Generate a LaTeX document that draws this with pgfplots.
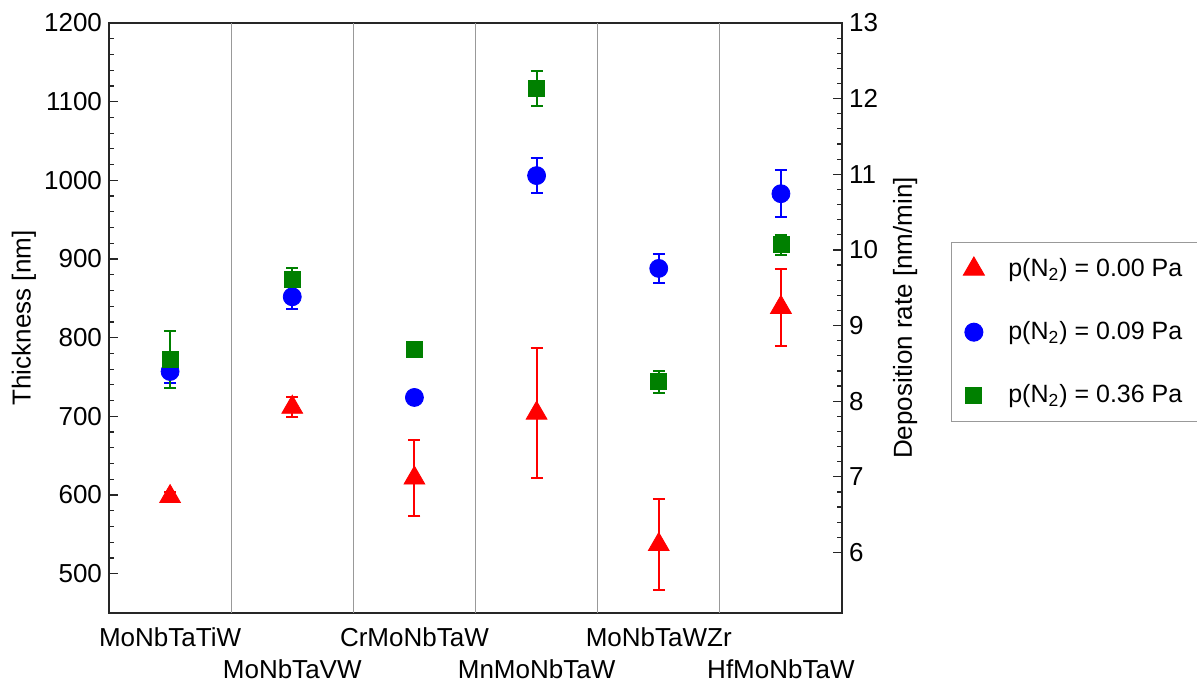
\documentclass[border=0pt]{standalone}
\usepackage{fontspec}
\setmainfont{Liberation Sans}
\usepackage{pgfplots}
\pgfplotsset{compat=1.18}
\definecolor{cred}{RGB}{255,0,0}
\definecolor{cblue}{RGB}{0,0,255}
\definecolor{cgreen}{RGB}{0,128,0}
\newcommand{\fs}{\fontsize{12.5}{15}\selectfont}
\newcommand{\ft}{\fontsize{13}{15.6}\selectfont}
\pgfplotstableread{
x y e
0.5 598 6
1.5 711.5 12.7
2.5 621.5 48.5
3.5 704 83
4.5 537 58
5.5 838.5 48.5
}\redtab
\pgfplotstableread{
x y e
0.5 757 15
1.5 852 15
2.5 724 4
3.5 1006 22.5
4.5 888 18
5.5 983 30
}\bluetab
\pgfplotstableread{
x y e
0.5 772 36
1.5 874 15
2.5 785 10
3.5 1117 22
4.5 744 14
5.5 918 12.5
}\greentab
\begin{document}
\begin{tikzpicture}
\begin{axis}[
  at={(0,0)}, anchor=south west,
  scale only axis, width=366.5pt, height=295pt,
  xmin=0, xmax=6, ymin=450, ymax=1200,
  ytick={500,600,...,1200},
  minor y tick num=4,
  ytick pos=left,
  xtick={0.5,2.5,4.5},
  xticklabels={MoNbTaTiW,CrMoNbTaW,MoNbTaWZr},
  extra x ticks={1.5,3.5,5.5},
  extra x tick labels={MoNbTaVW,MnMoNbTaW,HfMoNbTaW},
  extra x tick style={major tick length=0pt, xticklabel style={yshift=-16pt}},
  xtick style={draw=none},
  tick align=inside,
  major tick length=4.5pt, minor tick length=2.3pt,
  tick style={black!85, line width=0.6pt},
  axis line style={line width=1pt, black!85},
  ylabel={Thickness [nm]},
  ylabel style={at={(axis description cs:-0.116,0.5)}, anchor=center},
  label style={font=\ft},
  tick label style={font=\ft},
  xticklabel style={yshift=-4pt},
  /pgf/number format/assume math mode=true,
  /pgf/number format/1000 sep={},
  legend style={at={(axis description cs:1.1487,0.6288)}, anchor=north west,
    draw=gray!80, line width=0.5pt, font=\fs, row sep=17pt,
    inner xsep=6pt, inner ysep=6pt,
    /tikz/every odd column/.append style={column sep=10pt}},
  legend cell align=left,
  error bars/error bar style={line width=1pt},
  error bars/error mark options={rotate=90, mark size=3pt, line width=1pt},
]
\addplot[gray!80, line width=0.6pt, forget plot] coordinates {(1,450) (1,1200)};
\addplot[gray!80, line width=0.6pt, forget plot] coordinates {(2,450) (2,1200)};
\addplot[gray!80, line width=0.6pt, forget plot] coordinates {(3,450) (3,1200)};
\addplot[gray!80, line width=0.6pt, forget plot] coordinates {(4,450) (4,1200)};
\addplot[gray!80, line width=0.6pt, forget plot] coordinates {(5,450) (5,1200)};
\addplot[only marks, mark=triangle*, mark size=6pt, color=cred,
  error bars/.cd, y dir=both, y explicit]
  table[x=x, y=y, y error=e] {\redtab};
\addlegendentry{p(N\textsubscript{2}) = 0.00 Pa}
\addplot[only marks, mark=*, mark size=4.5pt, color=cblue,
  error bars/.cd, y dir=both, y explicit]
  table[x=x, y=y, y error=e] {\bluetab};
\addlegendentry{p(N\textsubscript{2}) = 0.09 Pa}
\addplot[only marks, mark=square*, mark size=4pt, color=cgreen,
  error bars/.cd, y dir=both, y explicit]
  table[x=x, y=y, y error=e] {\greentab};
\addlegendentry{p(N\textsubscript{2}) = 0.36 Pa}
\end{axis}
\begin{axis}[
  at={(0,0)}, anchor=south west,
  scale only axis, width=366.5pt, height=295pt,
  xmin=0, xmax=6, ymin=5.2, ymax=13,
  hide x axis, axis y line*=right,
  ytick={6,...,13}, minor y tick num=4,
  tick align=inside,
  major tick length=4.5pt, minor tick length=2.3pt,
  tick style={black!85, line width=0.6pt},
  axis line style={line width=1pt, black!85},
  ylabel={Deposition rate [nm/min]},
  ylabel style={at={(axis description cs:1.086,0.5)}, anchor=center, rotate=0},
  label style={font=\ft},
  tick label style={font=\ft},
  /pgf/number format/assume math mode=true,
]
\end{axis}
\pgfresetboundingbox
\path[use as bounding box] (-54.5pt,-35pt) rectangle (544pt,306.5pt);
\end{tikzpicture}
\end{document}
